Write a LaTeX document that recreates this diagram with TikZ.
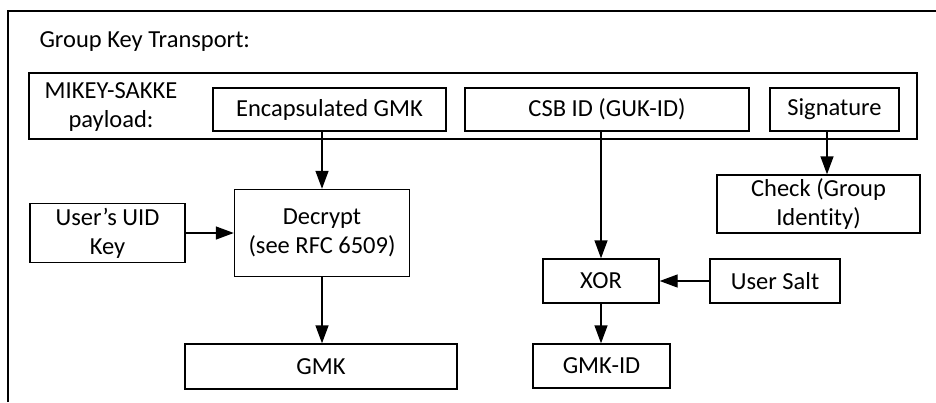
\documentclass[tikz,border=0pt]{standalone}
\usepackage{fontspec}
\setmainfont[Ligatures=NoCommon]{Carlito}
\usetikzlibrary{arrows.meta}
\begin{document}
\begin{tikzpicture}[x=1pt,y=-1pt,
  every node/.style={font=\fontsize{24.5}{29}\selectfont},
  box/.style={draw, line width=1.4pt, inner sep=0pt, align=center},
  arr/.style={line width=1.4pt, -{Triangle[length=18pt,width=13pt]}}]
\useasboundingbox (0,0) rectangle (936,402);
% outer frame (cut off at right and bottom)
\draw[line width=1.4pt] (8,402) -- (8,11) -- (936,11);
\node[anchor=west] (title) at (36,42) {Group Key Transport:};
% payload container
\node[box, minimum width=888pt, minimum height=66pt] (mikey) at (473,106) {};
\node[align=center] (mikeylbl) at (111,107) {MIKEY-SAKKE\\payload:};
\node[box, minimum width=233pt, minimum height=43pt] (enc) at (329.5,109.5) {Encapsulated GMK};
\node[box, minimum width=284pt, minimum height=43pt] (csb) at (607,109.5) {CSB ID (GUK-ID)};
\node[box, minimum width=129pt, minimum height=43pt] (sig) at (834.5,109.5) {Signature};
% lower boxes
\node[box, minimum width=203pt, minimum height=58pt] (check) at (818.5,204) {Check (Group\\Identity)};
\node[box, minimum width=175pt, minimum height=87pt] (dec) at (322,233) {Decrypt\\(see RFC 6509)};
\node[box, minimum width=155pt, minimum height=59pt] (uid) at (107.5,233) {User’s UID\\Key};
\node[box, minimum width=272pt, minimum height=45pt] (gmk) at (321,366.5) {GMK};
\node[box, minimum width=116pt, minimum height=44pt] (xor) at (601,281) {XOR};
\node[box, minimum width=130pt, minimum height=44pt] (salt) at (775,281) {User Salt};
\node[box, minimum width=137pt, minimum height=44pt] (gmkid) at (601.5,366) {GMK-ID};
% connectors
\draw[arr] (dec.north |- enc.south) -- (dec.north);
\draw[arr] (xor.north |- csb.south) -- (xor.north);
\draw[arr] ([xshift=-7.5pt]sig.south) -- ([xshift=-7.5pt]sig.south |- check.north);
\draw[arr] (uid.east) -- (dec.west |- uid.east);
\draw[arr] (dec.south) -- (dec.south |- gmk.north);
\draw[arr] (salt.west) -- (xor.east);
\draw[arr] (xor.south) -- (xor.south |- gmkid.north);
\end{tikzpicture}
\end{document}
